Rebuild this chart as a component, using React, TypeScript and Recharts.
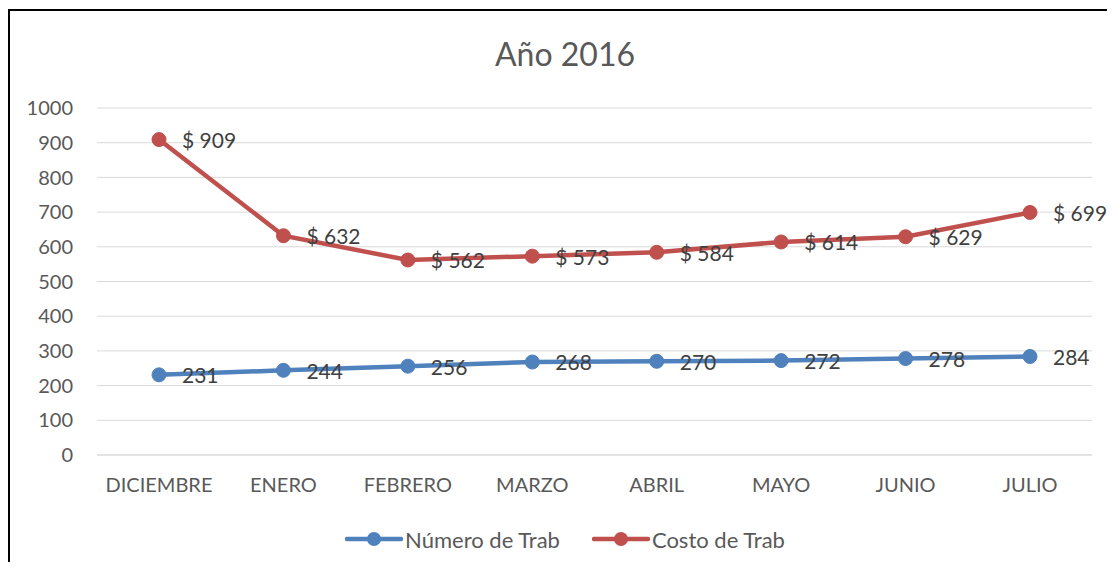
import React from "react";
import {
  LineChart,
  Line,
  XAxis,
  YAxis,
  CartesianGrid,
  Legend,
  LabelList,
} from "recharts";

const MONTHS = [
  "DICIEMBRE",
  "ENERO",
  "FEBRERO",
  "MARZO",
  "ABRIL",
  "MAYO",
  "JUNIO",
  "JULIO",
];
const NUMERO_TRAB = [231, 244, 256, 268, 270, 272, 278, 284];
const COSTO_TRAB = [909, 632, 562, 573, 584, 614, 629, 699];
const Y_TICKS = [0, 100, 200, 300, 400, 500, 600, 700, 800, 900, 1000];

const BLUE = "#4F81BD";
const RED = "#C0504D";
const FONT = "Lato, 'Noto Sans', sans-serif";

const data = MONTHS.map((m, i) => ({
  month: m,
  numero: NUMERO_TRAB[i],
  costo: COSTO_TRAB[i],
}));

const makeLabel = (prefix: string) => (props: any) => {
  const { x, y, value } = props;
  return (
    <text
      x={x + 23}
      y={y + 1}
      dy="0.35em"
      textAnchor="start"
      fill="#404040"
      fontSize={21}
      fontFamily={FONT}
    >
      {prefix}
      {value}
    </text>
  );
};

const LegendItem = ({ color, label }: { color: string; label: string }) => (
  <div style={{ display: "flex", alignItems: "center" }}>
    <svg width={58} height={20}>
      <line x1={2} y1={10} x2={56} y2={10} stroke={color} strokeWidth={4.5} strokeLinecap="round" />
      <circle cx={29} cy={10} r={7} fill={color} />
    </svg>
    <span style={{ marginLeft: 2, fontSize: 22, color: "#595959", fontFamily: FONT }}>
      {label}
    </span>
  </div>
);

const renderLegend = () => (
  <div
    style={{
      display: "flex",
      justifyContent: "center",
      alignItems: "center",
      gap: 32,
      height: 30,
    }}
  >
    <LegendItem color={BLUE} label="Número de Trab" />
    <LegendItem color={RED} label="Costo de Trab" />
  </div>
);

export default function App() {
  return (
    <div
      style={{
        position: "relative",
        top: 1,
        width: 1107,
        height: 552,
        borderTop: "2px solid #000",
        borderLeft: "2px solid #000",
        overflow: "hidden",
        fontFamily: FONT,
      }}
    >
      <div
        style={{
          position: "absolute",
          left: 0,
          top: 23,
          width: 1110,
          textAlign: "center",
          fontSize: 32,
          lineHeight: "40px",
          color: "#595959",
        }}
      >
        Año 2016
      </div>
      <LineChart
        width={1110}
        height={552}
        data={data}
        margin={{ top: 97, right: 28, bottom: 18, left: 0 }}
      >
        <CartesianGrid vertical={false} stroke="#d9d9d9" strokeWidth={1} />
        <XAxis
          dataKey="month"
          padding={{ left: 62, right: 62 }}
          height={60}
          tickSize={0}
          tickMargin={23}
          axisLine={{ stroke: "#d9d9d9" }}
          tick={{ fontSize: 20, fill: "#595959", fontFamily: FONT }}
        />
        <YAxis
          domain={[0, 1000]}
          ticks={Y_TICKS}
          width={87}
          tickSize={0}
          tickMargin={24}
          axisLine={false}
          tickLine={false}
          tick={{ fontSize: 20, fill: "#595959", fontFamily: FONT }}
        />
        <Legend
          verticalAlign="bottom"
          content={renderLegend}
          wrapperStyle={{ top: 513, left: 0, width: 1110 }}
        />
        <Line
          type="linear"
          dataKey="numero"
          name="Número de Trab"
          stroke={BLUE}
          strokeWidth={4.5}
          dot={{ r: 7, fill: BLUE, stroke: BLUE, strokeWidth: 1 }}
          isAnimationActive={false}
        >
          <LabelList dataKey="numero" content={makeLabel("")} />
        </Line>
        <Line
          type="linear"
          dataKey="costo"
          name="Costo de Trab"
          stroke={RED}
          strokeWidth={4.5}
          dot={{ r: 7, fill: RED, stroke: RED, strokeWidth: 1 }}
          isAnimationActive={false}
        >
          <LabelList dataKey="costo" content={makeLabel("$ ")} />
        </Line>
      </LineChart>
    </div>
  );
}
